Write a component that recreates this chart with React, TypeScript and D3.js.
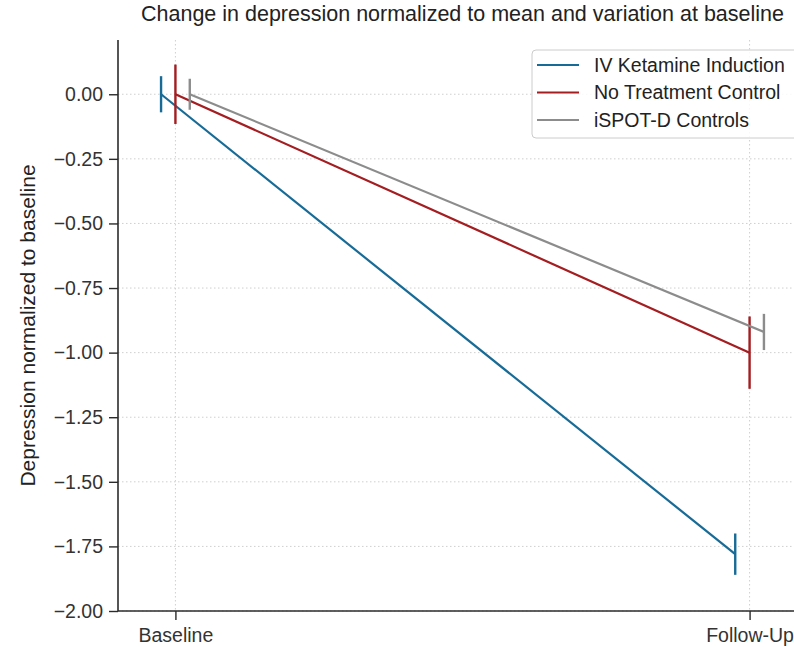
import { useEffect, useRef } from "react";
import * as d3 from "d3";

const timepoints = ["Baseline", "Follow-Up"];
const groupNames = ["IV Ketamine Induction", "No Treatment Control", "iSPOT-D Controls"];
const groupColors = ["#176b96", "#a31d21", "#8c8c8c"];

// mean and error half-width per timepoint
const ketamineMean = [0, -1.78];
const ketamineErr = [0.07, 0.08];
const noTreatmentMean = [0, -1.0];
const noTreatmentErr = [0.115, 0.14];
const ispotMean = [0, -0.92];
const ispotErr = [0.06, 0.07];

const yTicks = [0, -0.25, -0.5, -0.75, -1.0, -1.25, -1.5, -1.75, -2.0];

const App: React.FC = () => {
  const ref = useRef<HTMLDivElement>(null);

  useEffect(() => {
    const W = 794;
    const H = 647;
    const left = 118;
    const top = 40;
    const bottom = 611;
    const right = 807;
    const font = "'Liberation Sans', Arial, sans-serif";

    const svg = d3
      .select(ref.current)
      .html("")
      .append("svg")
      .attr("width", W)
      .attr("height", H)
      .style("position", "absolute")
      .style("left", "0px")
      .style("top", "0px")
      .style("background", "#fff");

    const x = d3.scaleLinear().domain([-0.1, 1.1]).range([left, right]);
    const y = d3.scaleLinear().domain([-2, 0.21]).range([bottom, top]);

    const series = [
      { name: groupNames[0], mean: ketamineMean, err: ketamineErr, color: groupColors[0], dodge: -0.025 },
      { name: groupNames[1], mean: noTreatmentMean, err: noTreatmentErr, color: groupColors[1], dodge: 0 },
      { name: groupNames[2], mean: ispotMean, err: ispotErr, color: groupColors[2], dodge: 0.025 },
    ];

    // grid
    svg
      .append("g")
      .selectAll("line")
      .data(yTicks)
      .enter()
      .append("line")
      .attr("x1", left)
      .attr("x2", right)
      .attr("y1", (d) => y(d))
      .attr("y2", (d) => y(d))
      .attr("stroke", "#cfcfcf")
      .attr("stroke-width", 1)
      .attr("stroke-dasharray", "1.5,2.5");
    svg
      .append("g")
      .selectAll("line")
      .data(timepoints)
      .enter()
      .append("line")
      .attr("x1", (_, i) => x(i))
      .attr("x2", (_, i) => x(i))
      .attr("y1", top)
      .attr("y2", bottom)
      .attr("stroke", "#cfcfcf")
      .attr("stroke-width", 1)
      .attr("stroke-dasharray", "1.5,2.5");

    // lines + error bars
    series.forEach((s) => {
      const line = d3
        .line<number>()
        .x((_, i) => x(i + s.dodge))
        .y((d) => y(d));
      svg
        .append("path")
        .attr("d", line(s.mean))
        .attr("fill", "none")
        .attr("stroke", s.color)
        .attr("stroke-width", 2.2);
      svg
        .append("g")
        .selectAll("line")
        .data(s.mean)
        .enter()
        .append("line")
        .attr("x1", (_, i) => x(i + s.dodge))
        .attr("x2", (_, i) => x(i + s.dodge))
        .attr("y1", (d, i) => y(d + s.err[i]))
        .attr("y2", (d, i) => y(d - s.err[i]))
        .attr("stroke", s.color)
        .attr("stroke-width", 2.4);
    });

    // y axis
    const yAxis = svg
      .append("g")
      .attr("transform", `translate(${left},0)`)
      .call(
        d3
          .axisLeft(y)
          .tickValues(yTicks)
          .tickSize(9)
          .tickPadding(6)
          .tickFormat((d) => d3.format(".2f")(d as number).replace("-", "\u2212"))
      );
    yAxis.select(".domain").attr("d", `M0,${top}V${bottom}`);

    // x axis
    const xAxis = svg
      .append("g")
      .attr("transform", `translate(0,${bottom})`)
      .call(
        d3
          .axisBottom(x)
          .tickValues([0, 1])
          .tickSize(9)
          .tickPadding(8)
          .tickFormat((d) => timepoints[d as number])
      );
    xAxis.select(".domain").attr("d", `M${left},0H${right}`);

    svg.selectAll(".domain").attr("stroke", "#2b2b2b").attr("stroke-width", 1.6);
    svg.selectAll(".tick line").attr("stroke", "#2b2b2b").attr("stroke-width", 1.4);
    svg
      .selectAll(".tick text")
      .attr("fill", "#333")
      .style("font-family", font)
      .style("font-size", "19.5px");

    // title
    svg
      .append("text")
      .attr("x", (left + right) / 2)
      .attr("y", 21)
      .attr("text-anchor", "middle")
      .attr("fill", "#222")
      .style("font-family", font)
      .style("font-size", "21.5px")
      .text("Change in depression normalized to mean and variation at baseline");

    // y label
    svg
      .append("text")
      .attr("transform", `translate(35,${(top + bottom) / 2}) rotate(-90)`)
      .attr("text-anchor", "middle")
      .attr("fill", "#222")
      .style("font-family", font)
      .style("font-size", "21px")
      .text("Depression normalized to baseline");

    // legend
    const lg = svg.append("g").attr("transform", "translate(532,50)");
    lg.append("rect")
      .attr("width", 290)
      .attr("height", 88)
      .attr("rx", 4)
      .attr("fill", "#fff")
      .attr("fill-opacity", 0.85)
      .attr("stroke", "#cccccc")
      .attr("stroke-width", 1);
    const items = lg
      .selectAll(".item")
      .data(series)
      .enter()
      .append("g")
      .attr("transform", (_, i) => `translate(0,${15 + i * 27.5})`);
    items
      .append("line")
      .attr("x1", 5)
      .attr("x2", 47)
      .attr("stroke", (d) => d.color)
      .attr("stroke-width", 2.2);
    items
      .append("text")
      .attr("x", 62)
      .attr("dy", "0.35em")
      .attr("fill", "#222")
      .style("font-family", font)
      .style("font-size", "19.5px")
      .text((d) => d.name);
  }, []);

  return <div ref={ref}></div>;
};

export default App;
